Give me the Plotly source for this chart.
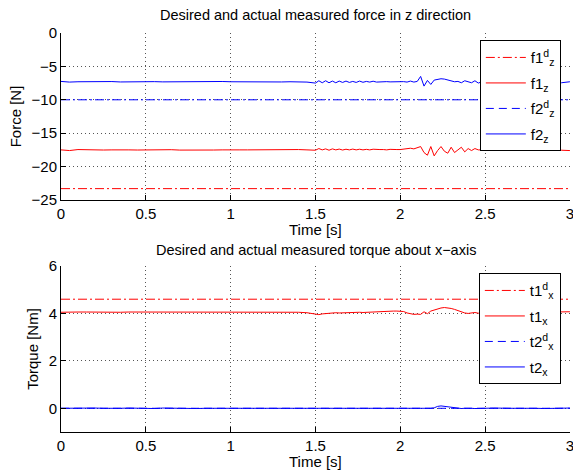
import plotly.graph_objects as go

# ---------------- data ----------------
time_s = [
    0.00, 0.05, 0.10, 0.15, 0.20, 0.25, 0.30, 0.35, 0.40, 0.45,
    0.50, 0.55, 0.60, 0.65, 0.70, 0.75, 0.80, 0.85, 0.90, 0.95,
    1.00, 1.05, 1.10, 1.15, 1.20, 1.25, 1.30, 1.35, 1.40, 1.45,
    1.50, 1.52, 1.54, 1.56, 1.58, 1.60, 1.62, 1.64, 1.66, 1.68,
    1.70, 1.72, 1.74, 1.76, 1.78, 1.80, 1.82, 1.84, 1.86, 1.88,
    1.90, 1.92, 1.94, 1.96, 1.98,
    2.00, 2.02, 2.04, 2.06, 2.08, 2.10, 2.12, 2.14, 2.16, 2.18,
    2.20, 2.22, 2.24, 2.26, 2.28, 2.30, 2.32, 2.34, 2.36, 2.38,
    2.40, 2.42, 2.44, 2.46, 2.48,
    2.50, 2.55, 2.60, 2.65, 2.70, 2.75, 2.80, 2.85, 2.90, 2.95, 3.00,
]

f1_meas = [
    -17.50, -17.60, -17.45, -17.50, -17.48, -17.52, -17.50, -17.45, -17.50, -17.52,
    -17.48, -17.50, -17.50, -17.47, -17.53, -17.50, -17.48, -17.50, -17.52, -17.50,
    -17.45, -17.50, -17.50, -17.48, -17.50, -17.52, -17.47, -17.40, -17.45, -17.50,
    -17.55, -17.30, -17.50, -17.35, -17.55, -17.35, -17.50, -17.38, -17.52, -17.40,
    -17.50, -17.38, -17.50, -17.40, -17.50, -17.42, -17.50, -17.40, -17.48, -17.45,
    -17.45, -17.50, -17.42, -17.48, -17.45,
    -17.45, -17.40, -17.30, -17.25, -17.35, -17.20, -17.00, -17.90, -18.30, -17.00,
    -18.40, -17.60, -17.00, -17.70, -18.00, -17.10, -17.90, -17.50, -17.10, -17.80,
    -17.30, -17.60, -17.30, -17.50, -17.50,
    -17.55, -17.50, -17.45, -17.50, -17.50, -17.48, -17.50, -17.52, -17.50, -17.55, -17.60,
]

f2_meas = [
    -7.25, -7.35, -7.30, -7.28, -7.32, -7.30, -7.27, -7.33, -7.30, -7.29,
    -7.31, -7.28, -7.32, -7.30, -7.27, -7.30, -7.33, -7.29, -7.30, -7.26,
    -7.30, -7.32, -7.28, -7.30, -7.31, -7.29, -7.33, -7.30, -7.28, -7.35,
    -7.50, -7.15, -7.45, -7.15, -7.45, -7.20, -7.45, -7.20, -7.40, -7.20,
    -7.40, -7.25, -7.40, -7.20, -7.38, -7.25, -7.35, -7.22, -7.35, -7.30,
    -7.30, -7.28, -7.32, -7.30, -7.30,
    -7.30, -7.28, -7.35, -7.20, -7.35, -7.25, -6.50, -7.95, -7.10, -7.70,
    -7.05, -6.95, -6.85, -6.90, -7.05, -7.20, -7.30, -7.25, -7.45, -7.15,
    -7.35, -7.45, -7.15, -7.50, -7.30,
    -7.40, -7.30, -7.25, -7.35, -7.30, -7.28, -7.32, -7.30, -7.35, -7.45, -7.30,
]

t1_meas = [
    4.05, 4.07, 4.06, 4.06, 4.05, 4.06, 4.06, 4.05, 4.06, 4.06,
    4.06, 4.06, 4.05, 4.06, 4.06, 4.06, 4.06, 4.07, 4.07, 4.08,
    4.07, 4.07, 4.08, 4.08, 4.08, 4.08, 4.07, 4.06, 4.05, 4.03,
    3.97, 3.95, 3.98, 4.00, 4.01, 4.02, 4.03, 4.02, 4.03, 4.04,
    4.04, 4.05, 4.05, 4.05, 4.04, 4.05, 4.06, 4.06, 4.05, 4.06,
    4.07, 4.08, 4.09, 4.10, 4.10,
    4.10, 4.08, 4.02, 3.98, 3.96, 3.97, 3.96, 4.07, 3.99, 4.10,
    4.15, 4.19, 4.23, 4.25, 4.24, 4.21, 4.17, 4.12, 4.06, 4.02,
    4.00, 4.02, 4.04, 4.01, 4.03,
    4.02, 4.03, 4.04, 4.04, 4.05, 4.04, 4.05, 4.06, 4.06, 4.08, 4.07,
]

t2_meas = [
    0.00, 0.01, -0.01, 0.00, 0.01, 0.00, -0.01, 0.00, 0.01, 0.00,
    0.00, -0.01, 0.01, 0.00, 0.00, 0.01, -0.01, 0.00, 0.00, 0.01,
    0.00, -0.01, 0.00, 0.01, 0.00, 0.00, -0.01, 0.00, 0.01, 0.00,
    0.00, 0.01, -0.01, 0.00, 0.01, 0.00, -0.01, 0.00, 0.00, 0.01,
    0.00, -0.01, 0.00, 0.01, 0.00, 0.00, -0.01, 0.00, 0.01, 0.00,
    0.00, 0.00, -0.01, 0.00, 0.01,
    0.00, 0.00, 0.01, 0.00, -0.01, 0.00, 0.00, 0.01, -0.02, 0.00,
    0.02, 0.08, 0.10, 0.08, 0.05, 0.02, 0.00, 0.01, -0.01, 0.00,
    0.01, 0.00, -0.01, 0.00, 0.00,
    0.00, 0.01, -0.01, 0.00, 0.00, 0.01, 0.00, -0.01, 0.00, 0.02, 0.01,
]

time_span = [0, 3]
f1_desired = -23.3
f2_desired = -10.0
t1_desired = 4.6
t2_desired = 0.0

time_ticks = [0, 0.5, 1, 1.5, 2, 2.5, 3]
force_ticks = [0, -5, -10, -15, -20, -25]
torque_ticks = [0, 2, 4, 6]

titles = ["Desired and actual measured force in z direction",
          "Desired and actual measured torque about x\u2212axis"]
x_title = "Time [s]"
force_names = ["f1<sup>d</sup><sub>z</sub>", "f1<sub>z</sub>",
               "f2<sup>d</sup><sub>z</sub>", "f2<sub>z</sub>"]
torque_names = ["t1<sup>d</sup><sub>x</sub>", "t1<sub>x</sub>",
                "t2<sup>d</sup><sub>x</sub>", "t2<sub>x</sub>"]

# ---------------- styling ----------------
RED = "#ff0000"
BLUE = "#0000ff"
DASHDOT = "9px,3px,2px,3px"
DASHED = "8px,5px"
FONT = "Liberation Sans, Arial, Helvetica, sans-serif"
TXT = 15

fig = go.Figure()


def add_panel(xa, ya, leg, names, d1, m1, d2, m2, d2_dash_plot):
    fig.add_trace(go.Scatter(x=time_span, y=[d1, d1], mode="lines",
                             line=dict(color=RED, width=1, dash=DASHDOT),
                             name=names[0], legend=leg, legendgroup=leg + "a",
                             xaxis=xa, yaxis=ya))
    fig.add_trace(go.Scatter(x=time_s, y=m1, mode="lines",
                             line=dict(color=RED, width=1),
                             name=names[1], legend=leg, legendgroup=leg + "b",
                             xaxis=xa, yaxis=ya))
    fig.add_trace(go.Scatter(x=time_span, y=[d2, d2], mode="lines",
                             line=dict(color=BLUE, width=1, dash=d2_dash_plot),
                             showlegend=False, xaxis=xa, yaxis=ya))
    fig.add_trace(go.Scatter(x=[None], y=[None], mode="lines",
                             line=dict(color=BLUE, width=1, dash=DASHED),
                             name=names[2], legend=leg, legendgroup=leg + "c",
                             xaxis=xa, yaxis=ya))
    fig.add_trace(go.Scatter(x=time_s, y=m2, mode="lines",
                             line=dict(color=BLUE, width=1),
                             name=names[3], legend=leg, legendgroup=leg + "d",
                             xaxis=xa, yaxis=ya))


add_panel("x", "y", "legend", force_names, f1_desired, f1_meas,
          f2_desired, f2_meas, DASHDOT)
add_panel("x2", "y2", "legend2", torque_names, t1_desired, t1_meas,
          t2_desired, t2_meas, DASHED)

axis_common = dict(
    showline=True, linecolor="black", linewidth=1,
    ticks="inside", ticklen=5, tickcolor="black", tickwidth=1,
    showgrid=True, gridcolor="#555555", gridwidth=1, griddash="1px,3px",
    zeroline=False, mirror=False, automargin=False,
    ticklabeloverflow="allow",
    tickfont=dict(family=FONT, size=TXT, color="black"),
)

xcommon = dict(axis_common, range=[0, 3.0005], tickmode="array", tickvals=time_ticks)

TOP_DOM = [0.5815, 1.0]
BOT_DOM = [0.0, 0.416]

legend_common = dict(xanchor="right", yanchor="top",
                     bordercolor="black", borderwidth=1, bgcolor="white",
                     font=dict(family=FONT, size=TXT, color="black"),
                     tracegroupgap=3, itemwidth=40)


def label(text, y, size=TXT):
    return dict(text=text, x=0.5, y=y, xref="paper", yref="paper",
                xanchor="center", yanchor="middle", showarrow=False,
                font=dict(family=FONT, size=size, color="black"))


fig.update_layout(
    width=573, height=472,
    margin=dict(l=61, r=3, t=33, b=40),
    paper_bgcolor="white", plot_bgcolor="white",
    font=dict(family=FONT, size=TXT, color="black"),
    xaxis=dict(xcommon, anchor="y", domain=[0, 1]),
    yaxis=dict(axis_common, anchor="x", domain=TOP_DOM, range=[-25, 0],
               tickmode="array", tickvals=force_ticks,
               title=dict(text="Force [N]", font=dict(family=FONT, size=TXT, color="black"), standoff=6)),
    xaxis2=dict(xcommon, anchor="y2", domain=[0, 1]),
    yaxis2=dict(axis_common, anchor="x2", domain=BOT_DOM, range=[-1, 6],
                tickmode="array", tickvals=torque_ticks,
                title=dict(text="Torque [Nm]", font=dict(family=FONT, size=TXT, color="black"), standoff=6)),
    legend=dict(legend_common, x=0.982, y=0.982),
    legend2=dict(legend_common, x=0.982, y=0.398),
    showlegend=True,
    annotations=[
        label(titles[0], 1.045, 14.5),
        label(titles[1], 0.456, 14.5),
        label(x_title, 0.508),
        label(x_title, -0.0727),
    ],
)

# remove the default page margin so the 573x472 figure fills the window exactly
fig.write_html(
    "out.html",
    config={"displayModeBar": False},
    post_script="document.body.style.margin='0';document.body.style.overflow='hidden';",
)
